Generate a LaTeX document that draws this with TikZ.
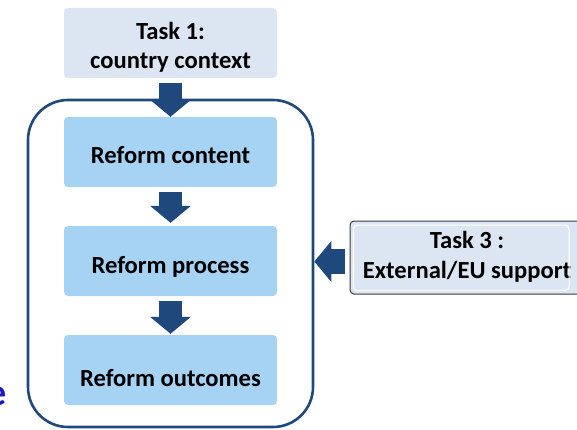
\documentclass[tikz,border=0pt]{standalone}
\usepackage{fontspec}
\setmainfont{Carlito}
\usetikzlibrary{arrows.meta,calc}
\definecolor{navy}{HTML}{1F497D}
\definecolor{paleblue}{HTML}{DCE6F2}
\definecolor{skyblue}{HTML}{A6D2F4}
\definecolor{edgegray}{HTML}{3A3A3A}
\definecolor{cutblue}{HTML}{1A1AC0}
\begin{document}
\begin{tikzpicture}[x=1pt,y=-1pt,
  font=\fontsize{24.6}{29.5}\selectfont\bfseries,
  taskbox/.style={fill=paleblue, rounded corners=4pt, inner sep=0pt, align=center},
  stagebox/.style={fill=skyblue, rounded corners=4pt, minimum width=213pt,
    minimum height=70pt, inner sep=0pt, text height=24pt, text depth=0pt},
  groupframe/.style={draw=navy, line width=2.6pt, rounded corners=40pt, inner sep=0pt},
  blockarrow/.style={navy, line width=23pt, -{Triangle[width=40pt,length=17pt]}}
]
\useasboundingbox (0,0) rectangle (577,430);

% partly visible letter at the left edge
\node[font=\fontsize{38}{38}\selectfont\bfseries, text=cutblue, anchor=base east,
  inner sep=0pt] (cut) at (7,405) {e};

% task 1
\node[taskbox, minimum width=213pt, minimum height=70pt, text height=52pt, text depth=0pt]
  (t1) at (170.5,43) {Task 1:\\country context};

% enclosing frame
\node[groupframe, minimum width=285pt, minimum height=327pt] (frame) at (170.5,263.5) {};

% the three stages
\node[stagebox] (rc) at (170.5,152) {Reform content};
\node[stagebox] (rp) at (170.5,261) {Reform process};
\node[stagebox, text height=32pt] (ro) at (170.5,370) {Reform outcomes};

% task 3 with its bevelled edge
\node[taskbox, draw=edgegray, line width=1pt, minimum width=234pt, minimum height=73pt,
  text height=41pt, text depth=0pt] (t3) at (467,257.5) {Task 3 :\\External/EU support};
\draw[white, line width=1pt, rounded corners=4pt] (353.5,225) rectangle (569,290.5);

% arrows
\draw[blockarrow] ($(t1.south)+(0,5)$) -- (rc.north);
\draw[blockarrow] ($(rc.south)+(0,5)$) -- ($(rp.north)+(0,-3)$);
\draw[blockarrow] ($(rp.south)+(0,5)$) -- ($(ro.north)+(0,-1)$);
\draw[blockarrow, line width=25pt] ($(t3.west)+(-5,4)$) -- ($(frame.east |- t3.west)+(0,4)$);
\end{tikzpicture}
\end{document}
